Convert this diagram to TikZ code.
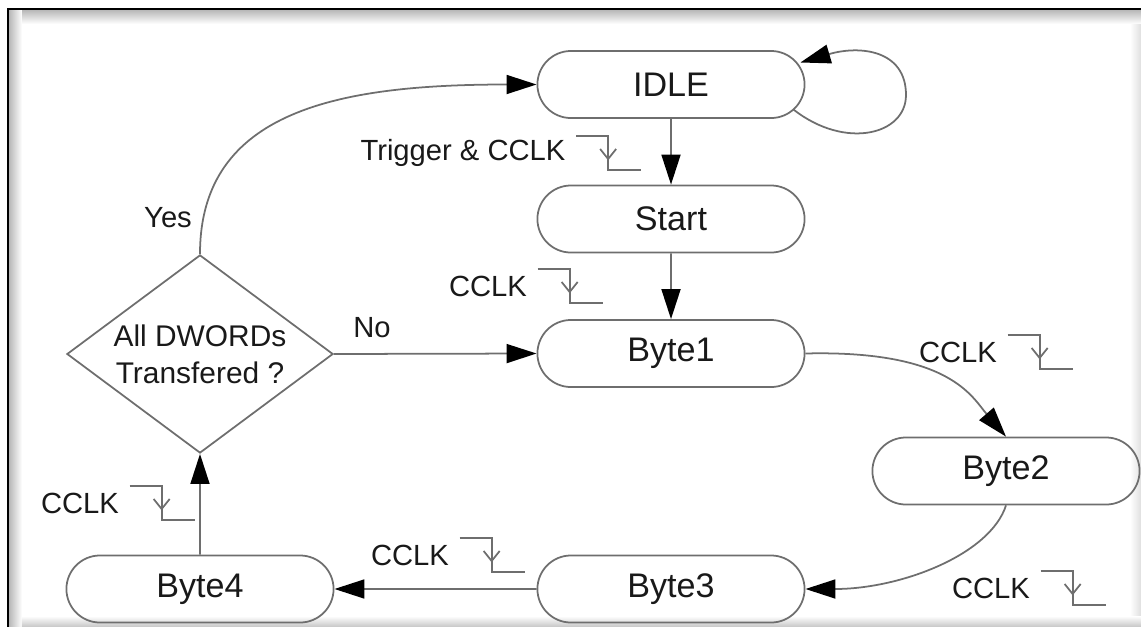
\documentclass[tikz,border=0pt]{standalone}
\usepackage{fontspec}
\setmainfont{Liberation Sans}
\usetikzlibrary{calc,arrows.meta,shapes.geometric,shapes.misc}

\definecolor{linegray}{RGB}{110,110,110}
\definecolor{textdark}{RGB}{25,25,25}

\tikzset{
  state/.style={rounded rectangle, draw=linegray, line width=0.5pt,
    minimum width=2.67cm, minimum height=0.67cm, inner sep=0pt,
    text=textdark, font=\fontsize{9.7}{11}\selectfont},
  decision/.style={diamond, aspect=1.33, draw=linegray, line width=0.5pt,
    minimum width=2.66cm, minimum height=1.98cm, inner sep=0pt, align=center,
    text=textdark, font=\fontsize{8.5}{10.5}\selectfont},
  lbl/.style={text=textdark, font=\fontsize{8.3}{10}\selectfont, inner sep=0pt},
  trans/.style={draw=linegray, line width=0.5pt,
    -{Triangle[length=0.3cm,width=0.19cm,color=black]}},
  edgesym/.style={draw=linegray, line width=0.5pt}
}

% falling clock edge right of a label
\newcommand{\falledge}[1]{
  \draw[edgesym] ($(#1.east)+(10,-17)$) -- ++(32,0) -- ++(0,34) -- ++(33,0);
  \draw[edgesym] ($(#1.east)+(34,-4)$) -- ++(8,10) -- ++(8,-10);
}

\begin{document}
\begin{tikzpicture}[x=0.01cm,y=-0.01cm]
	\useasboundingbox (0,0) rectangle (1141,627);
	% frame
	\shade[top color=gray!60, bottom color=white] (8,9) rectangle (1141,24);
	\shade[left color=gray!60, right color=white] (8,9) rectangle (22,627);
	\shade[left color=white, right color=gray!25] (1130,24) rectangle (1141,627);
	\shade[top color=white, bottom color=gray!45] (22,616) rectangle (1141,627);
	\draw[black, line width=0.6pt] (8,627) -- (8,9) -- (1141,9);

	% states
	\node[state] (idle) at (671,84.5) {IDLE};
	\node[state] (start) at (671,219) {Start};
	\node[state] (byte1) at (671,353.5) {Byte1};
	\node[state] (byte2) at (1006,471) {Byte2};
	\node[state] (byte3) at (671,589) {Byte3};
	\node[state] (byte4) at (200,589) {Byte4};
	\node[decision] (alldw) at (200,354) {All DWORDs\\Transfered ?};

	% labels
	\node[lbl] (trig) at (463,153) {Trigger \& CCLK};
	\node[lbl] (clkA) at (488,286) {CCLK};
	\node[lbl] (clkB) at (958,352) {CCLK};
	\node[lbl] (clkC) at (991,588) {CCLK};
	\node[lbl] (clkD) at (410,555) {CCLK};
	\node[lbl] (clkE) at (80,503) {CCLK};
	\node[lbl] (yes) at (168,218) {Yes};
	\node[lbl] (no) at (372,328) {No};
	\falledge{trig}
	\falledge{clkA}
	\falledge{clkB}
	\falledge{clkC}
	\falledge{clkD}
	\falledge{clkE}

	% transitions
	\draw[trans] ($(idle.east)+(-12,25)$) .. controls (845,150) and (906,135) .. (906,95)
		.. controls (906,50) and (860,45) .. ($(idle.east)+(-5,-22)$);
	\draw[trans] (idle) -- (start);
	\draw[trans] (start) -- (byte1);
	\draw[trans] (byte1.east) .. controls (950,350) and (972,397) .. (byte2.north);
	\draw[trans] (byte2.south) .. controls (990,555) and (900,589) .. (byte3.east);
	\draw[trans] (byte3) -- (byte4);
	\draw[trans] (byte4) -- (alldw);
	\draw[trans] (alldw.east) -- (byte1.west);
	\draw[trans] (alldw.north) .. controls (200,110) and (340,84.5) .. (idle.west);
\end{tikzpicture}
\end{document}
